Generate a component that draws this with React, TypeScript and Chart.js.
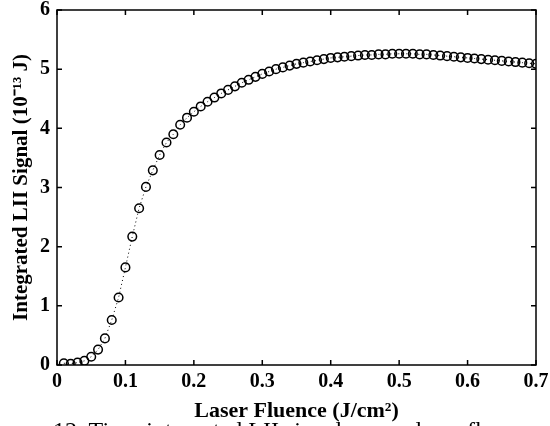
import React, { useEffect, useRef } from "react";
import { Chart, registerables } from "chart.js";

Chart.register(...registerables);

const fluence = [
  0.01, 0.02, 0.03, 0.04, 0.05, 0.06, 0.07, 0.08, 0.09, 0.10,
  0.11, 0.12, 0.13, 0.14, 0.15, 0.16, 0.17, 0.18, 0.19, 0.20,
  0.21, 0.22, 0.23, 0.24, 0.25, 0.26, 0.27, 0.28, 0.29, 0.30,
  0.31, 0.32, 0.33, 0.34, 0.35, 0.36, 0.37, 0.38, 0.39, 0.40,
  0.41, 0.42, 0.43, 0.44, 0.45, 0.46, 0.47, 0.48, 0.49, 0.50,
  0.51, 0.52, 0.53, 0.54, 0.55, 0.56, 0.57, 0.58, 0.59, 0.60,
  0.61, 0.62, 0.63, 0.64, 0.65, 0.66, 0.67, 0.68, 0.69, 0.70,
];

const signal = [
  0.03, 0.02, 0.04, 0.07, 0.14, 0.26, 0.45, 0.76, 1.14, 1.65,
  2.17, 2.65, 3.01, 3.29, 3.55, 3.76, 3.90, 4.06, 4.18, 4.28,
  4.37, 4.45, 4.52, 4.59, 4.65, 4.71, 4.77, 4.82, 4.87, 4.92,
  4.96, 5.00, 5.03, 5.06, 5.09, 5.11, 5.13, 5.15, 5.17, 5.19,
  5.20, 5.21, 5.22, 5.23, 5.24, 5.24, 5.25, 5.25, 5.26, 5.26,
  5.26, 5.26, 5.25, 5.25, 5.24, 5.23, 5.22, 5.21, 5.20, 5.19,
  5.18, 5.17, 5.16, 5.15, 5.14, 5.13, 5.12, 5.11, 5.10, 5.09,
];

const xTicks = [0, 0.1, 0.2, 0.3, 0.4, 0.5, 0.6, 0.7];
const yTicks = [0, 1, 2, 3, 4, 5, 6];

const xTitle = "Laser Fluence (J/cm²)";
const yTitle = "Integrated LII Signal (10⁻¹³ J)";
const caption = "12. Time-integrated LII signal versus laser fluence";

const SERIF = "'Liberation Serif', 'Times New Roman', serif";

const frameTicks = {
  id: "frameTicks",
  afterDatasetsDraw(chart: any) {
    const { ctx, chartArea, scales } = chart;
    const { left, right, top, bottom } = chartArea;
    ctx.save();
    ctx.strokeStyle = "#000";
    ctx.lineWidth = 1.5;
    ctx.strokeRect(left, top, right - left, bottom - top);
    const len = 5;
    ctx.beginPath();
    for (const v of xTicks) {
      const px = scales.x.getPixelForValue(v);
      ctx.moveTo(px, bottom);
      ctx.lineTo(px, bottom - len);
      ctx.moveTo(px, top);
      ctx.lineTo(px, top + len);
    }
    for (const v of yTicks) {
      const py = scales.y.getPixelForValue(v);
      ctx.moveTo(left, py);
      ctx.lineTo(left + len, py);
      ctx.moveTo(right, py);
      ctx.lineTo(right - len, py);
    }
    ctx.stroke();
    ctx.restore();
  },
};

export default function App() {
  const ref = useRef<HTMLCanvasElement | null>(null);

  useEffect(() => {
    if (!ref.current) return;
    const data = fluence.map((x, i) => ({ x, y: signal[i] }));
    const chart = new Chart(ref.current, {
      type: "line",
      data: {
        datasets: [
          {
            data,
            borderColor: "#000",
            borderWidth: 1,
            borderDash: [1, 3],
            pointStyle: "circle",
            pointRadius: 4.3,
            pointBorderWidth: 1.5,
            pointBorderColor: "#000",
            pointBackgroundColor: "rgba(0,0,0,0)",
            fill: false,
            tension: 0,
          },
        ],
      },
      options: {
        animation: false,
        responsive: false,
        maintainAspectRatio: false,
        layout: { padding: { left: 0, right: 14, top: 10, bottom: 0 } },
        plugins: { legend: { display: false }, tooltip: { enabled: false } },
        scales: {
          x: {
            type: "linear",
            min: 0,
            max: 0.7,
            afterBuildTicks: (s: any) => {
              s.ticks = xTicks.map((v) => ({ value: v }));
            },
            afterFit: (s: any) => {
              s.height = 61;
              s.paddingLeft = 0;
              s.paddingRight = 0;
            },
            grid: { display: false, drawTicks: false },
            border: { display: false },
            ticks: {
              padding: 5,
              color: "#000",
              font: { family: SERIF, size: 20, weight: "bold" },
              maxRotation: 0,
              callback: (v: any) => (v === 0 ? "0" : Number(v).toFixed(1)),
            },
            title: {
              display: true,
              text: xTitle,
              color: "#000",
              font: { family: SERIF, size: 22, weight: "bold" },
              padding: { top: 0, bottom: 1 },
            },
          },
          y: {
            type: "linear",
            min: 0,
            max: 6,
            afterBuildTicks: (s: any) => {
              s.ticks = yTicks.map((v) => ({ value: v }));
            },
            afterFit: (s: any) => {
              s.width = 57;
              s.paddingTop = 0;
              s.paddingBottom = 0;
            },
            grid: { display: false, drawTicks: false },
            border: { display: false },
            ticks: {
              padding: 7,
              color: "#000",
              font: { family: SERIF, size: 20, weight: "bold" },
            },
            title: {
              display: true,
              text: yTitle,
              color: "#000",
              font: { family: SERIF, size: 21, weight: "bold" },
              padding: { top: 9, bottom: 0 },
            },
          },
        },
      },
      plugins: [frameTicks],
    });
    return () => chart.destroy();
  }, []);

  return (
    <div
      style={{
        position: "fixed",
        left: 0,
        top: 0,
        width: 550,
        height: 426,
        overflow: "hidden",
        background: "#fff",
      }}
    >
      <canvas ref={ref} width={550} height={426} style={{ display: "block" }} />
      <div
        style={{
          position: "absolute",
          left: 53,
          top: 418,
          whiteSpace: "nowrap",
          fontFamily: SERIF,
          fontSize: 24,
          lineHeight: 1,
          color: "#000",
        }}
      >
        {caption}
      </div>
    </div>
  );
}
